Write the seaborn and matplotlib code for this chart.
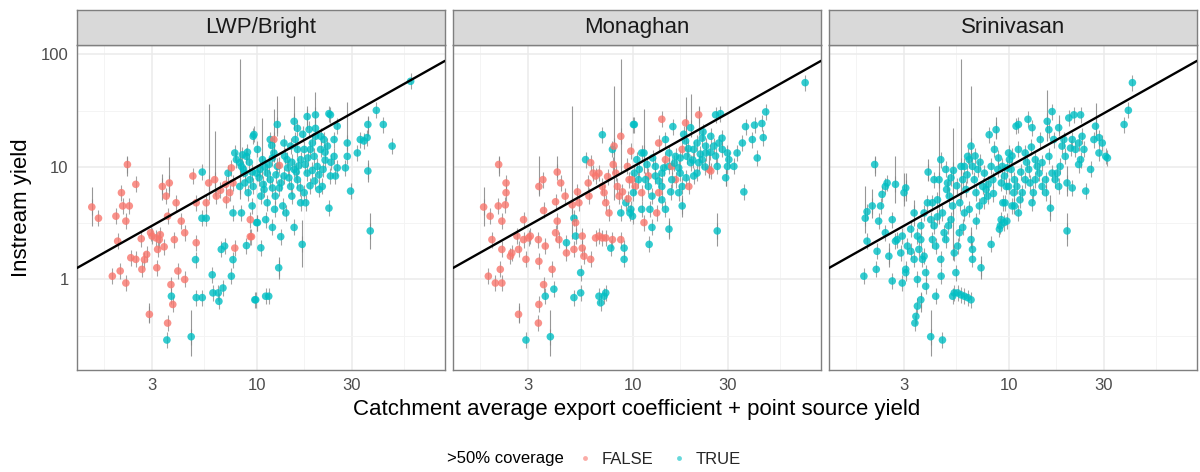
import matplotlib
matplotlib.use("Agg")
import matplotlib.pyplot as plt
from matplotlib.lines import Line2D
from matplotlib.ticker import FixedLocator, FixedFormatter, NullFormatter
import pandas as pd
import seaborn as sns

# ------------------------------------------------------------------ data
panel_names = ["LWP/Bright", "Monaghan", "Srinivasan"]
x_breaks = [3, 10, 30]
x_labels = ["3", "10", "30"]
y_breaks = [1, 10, 100]
y_labels = ["1", "10", "100"]
x_minor = [1.73, 5.48, 17.3, 54.8]
y_minor = [0.316, 3.16, 31.6]
x_range = (1.265, 87.5)
y_range = (0.157, 121.0)
cov_levels = ["FALSE", "TRUE"]

# LWP/Bright
lwp_x = [1.50, 1.62, 1.98, 2.11, 2.14, 2.26, 2.31, 2.22, 2.49, 2.02,
         1.90, 2.08, 2.22, 2.35, 2.49, 2.67, 2.82, 3.00, 3.14, 3.26,
         3.20, 3.17, 3.38, 3.53, 3.66, 3.59, 3.73, 3.81, 3.59, 3.56,
         3.75, 2.91, 3.96, 3.88, 4.04, 4.20, 4.37, 4.37, 4.71, 4.80,
         4.99, 4.99, 4.95, 4.99, 5.35, 5.35, 5.33, 5.60, 5.60, 5.76,
         6.00, 6.05, 6.43, 6.48, 6.79, 6.17, 6.29, 6.66, 6.92, 7.48,
         7.62, 7.78, 7.62, 7.20, 7.48, 7.78, 8.24, 8.40, 8.73, 8.90,
         9.43, 9.80, 9.61, 9.99, 7.93, 8.40, 8.73, 8.90, 9.25, 9.61,
         9.99, 9.07, 8.24, 7.62, 7.34, 7.06, 2.65, 2.95, 3.30, 3.45,
         2.75, 9.7, 12.7, 15.4, 16.0, 17.9, 19.7, 23.0, 23.4, 19.7,
         18.3, 25.3, 28.4, 28.4, 27.8, 29.5, 31.9, 33.0, 34.4, 35.7,
         36.0, 36.0, 37.0, 39.7, 43.0, 47.6, 58.9, 23.0, 16.9, 15.4,
         14.0, 13.2, 12.9, 10.5, 9.9, 11.1, 11.5, 11.1, 12.0, 10.1,
         9.3, 9.3, 10.1, 10.7, 11.3, 11.7, 12.2, 12.7, 13.2, 13.7,
         14.2, 14.8, 15.4, 16.0, 16.6, 17.3, 17.9, 18.6, 19.4, 20.1,
         20.9, 21.7, 22.6, 21.3, 20.5, 19.0, 17.3, 16.0, 14.8, 13.7,
         11.7, 10.9, 10.5, 11.3, 12.4, 16.6, 17.6, 19.7, 20.9, 24.4,
         24.4, 24.8, 23.4, 25.3, 12.2, 13.0, 13.5, 15.0, 18.5, 12.0,
         14.3, 19.0, 22.0, 16.2, 11.0, 10.3, 6.6, 7.0,
         8.6, 9.2, 9.5, 10.4, 10.8, 11.5, 12.0, 12.5, 13.0, 13.8,
         14.5, 15.0, 15.8, 16.5, 17.5, 18.0, 19.5, 20.5, 21.5, 22.0,
         23.5, 12.3, 9.5, 9.0, 8.5, 11.9, 15.6, 17.0]
lwp_y = [4.4, 3.5, 3.65, 5.9, 4.5, 10.5, 4.5, 3.3, 7.0, 2.19,
         1.07, 1.19, 0.93, 1.56, 1.51, 1.23, 1.67, 2.43, 2.34, 2.26,
         1.85, 1.27, 6.7, 5.5, 7.2, 3.65, 0.90, 0.60, 0.41, 0.29,
         0.71, 0.49, 4.8, 2.26, 1.19, 3.3, 1.0, 2.6, 0.31, 8.3,
         4.8, 2.12, 1.5, 0.69, 0.69, 9.0, 3.5, 4.8, 3.5, 7.2,
         1.1, 0.76, 0.76, 0.64, 0.84, 7.7, 5.5, 1.85, 1.98, 1.07,
         1.5, 1.9, 3.9, 8.8, 9.8, 13.3, 10.9, 3.9, 7.2, 2.0,
         2.4, 0.66, 18.7, 3.2, 11.6, 10.1, 8.8, 12.4, 7.7, 6.7,
         8.8, 5.9, 6.7, 7.2, 5.9, 5.1, 2.3, 2.6, 2.5, 1.95,
         1.5, 19.4, 23.8, 25.4, 22.0, 28.0, 29.0, 29.7, 29.0, 22.0,
         21.5, 23.0, 16.3, 12.4, 9.8, 6.1, 13.3, 17.5, 17.0, 18.2,
         23.8, 9.2, 2.7, 31.8, 23.8, 15.3, 57.6, 4.3, 2.05, 2.9,
         3.9, 2.4, 1.27, 1.91, 0.66, 0.71, 0.71, 3.4, 2.9, 3.2,
         2.4, 3.4, 14.3, 11.6, 8.8, 7.7, 13.3, 10.1, 7.2, 8.3,
         11.6, 6.7, 9.5, 7.7, 11.6, 5.9, 8.8, 14.3, 12.4, 10.1,
         14.3, 17.5, 15.3, 6.7, 6.3, 16.3, 14.3, 14.3, 15.3, 16.3,
         17.5, 6.3, 5.5, 4.8, 5.5, 4.8, 4.8, 18.7, 18.7, 17.5,
         12.4, 8.3, 8.3, 9.8, 17.5, 10.3, 4.5, 5.5, 6.8, 6.5,
         9.8, 9.3, 11.5, 10.2, 10.0, 8.0, 6.2, 7.0,
         9.5, 11.0, 9.0, 9.5, 7.0, 10.5, 12.0, 8.5, 6.5, 12.5,
         8.0, 11.0, 9.0, 6.5, 10.5, 12.0, 7.5, 8.5, 9.5, 13.5,
         11.0, 4.2, 4.5, 13.5, 12.8, 15.5, 17.5, 19.5]
lwp_cov = [0, 0, 0, 0, 0, 0, 0, 0, 0, 0,
           0, 0, 0, 0, 0, 0, 0, 0, 0, 0,
           0, 0, 0, 0, 0, 0, 0, 0, 0, 1,
           1, 0, 0, 0, 0, 0, 0, 0, 1, 0,
           0, 0, 1, 1, 1, 1, 1, 0, 1, 0,
           1, 1, 1, 1, 1, 0, 0, 1, 1, 1,
           1, 0, 1, 1, 0, 1, 1, 1, 1, 1,
           0, 1, 1, 1, 1, 1, 1, 1, 1, 1,
           1, 1, 1, 0, 0, 0, 0, 0, 0, 0,
           0, 1, 1, 1, 1, 1, 1, 1, 1, 1,
           1, 1, 1, 1, 1, 1, 1, 1, 1, 1,
           1, 1, 1, 1, 1, 1, 1, 1, 1, 1,
           1, 1, 1, 1, 1, 1, 1, 1, 1, 1,
           0, 0, 1, 1, 1, 1, 1, 1, 1, 1,
           1, 1, 1, 1, 1, 1, 1, 1, 1, 1,
           1, 1, 1, 1, 1, 1, 1, 1, 1, 1,
           1, 1, 1, 1, 1, 1, 1, 1, 1, 1,
           1, 1, 1, 1, 0, 0, 1, 1, 1, 1,
           1, 1, 1, 1, 1, 1, 0, 0,
           1, 1, 1, 1, 1, 1, 1, 1, 1, 1,
           1, 1, 1, 1, 1, 1, 1, 1, 1, 1,
           1, 1, 1, 1, 1, 1, 1, 1]
lwp_bar_x = [1.50, 2.26, 3.38, 3.66, 2.91, 4.71, 5.76, 6.17, 8.24, 12.7, 15.4,
             17.9, 19.7, 28.4, 36.0, 36.0, 37.0, 16.9, 12.9, 12.2, 10.7]
lwp_bar_lo = [3.0, 8.3, 5.1, 5.5, 0.41, 0.21, 5.1, 5.5, 5.2, 18.7, 21.3,
              21.5, 23.0, 14.3, 18.7, 7.4, 1.86, 1.28, 1.0, 11.1, 8.1]
lwp_bar_hi = [6.6, 12.4, 8.7, 12.2, 0.62, 0.54, 36.0, 20.8, 90.0, 42.8, 42.4,
              34.4, 46.4, 37.5, 28.6, 11.5, 3.9, 3.4, 1.59, 33.0, 27.0]

# Monaghan
mon_x = [1.80, 1.94, 2.14, 2.13, 2.22, 2.33, 2.33, 2.31, 1.98, 1.90,
         2.06, 2.18, 2.22, 2.22, 2.45, 2.49, 2.64, 2.69, 2.85, 2.85,
         3.02, 3.08, 2.93, 2.69, 3.40, 3.38, 3.40, 3.59, 3.56, 3.59,
         3.40, 3.38, 3.66, 2.93, 4.04, 3.88, 3.96, 4.12, 4.20, 4.20,
         4.12, 4.28, 4.37, 4.67, 4.67, 4.99, 5.09, 5.19, 5.09, 5.09,
         5.50, 5.50, 5.60, 5.71, 5.82, 6.17, 6.17, 6.35, 6.53, 6.79,
         7.06, 7.06, 7.20, 7.34, 7.62, 7.06, 7.34, 7.78, 7.93, 8.08,
         8.24, 8.40, 8.56, 8.73, 8.73, 9.07, 9.07, 9.25, 9.43, 9.61,
         9.80, 9.99, 9.80, 10.2, 10.2, 8.73, 7.93, 6.79, 6.53, 5.60,
         6.79, 7.20, 6.92, 7.34, 3.66, 5.39, 6.05, 5.19, 10.1, 11.4,
         14.0, 15.9, 18.4, 19.5, 21.4, 26.0, 27.5, 24.6, 25.5, 27.0,
         28.1, 29.8, 30.3, 29.8, 32.1, 33.3, 35.4, 36.7, 39.7, 40.7,
         44.3, 45.0, 42.0, 46.3, 72.9, 36.0, 29.2, 26.5, 26.5, 24.6,
         23.2, 23.2, 22.3, 21.0, 20.2, 21.0, 20.2, 19.5, 18.7, 18.4,
         17.7, 17.3, 17.7, 17.7, 17.0, 16.4, 15.7, 15.2, 15.2, 14.6,
         14.0, 14.0, 13.5, 13.0, 13.2, 12.5, 12.2, 12.5, 12.0, 12.0,
         11.6, 11.1, 11.4, 11.1, 10.7, 10.3, 10.1, 9.9, 9.7, 15.2,
         12.1, 14.6, 13.5, 15.7, 17.0, 16.4, 13.0, 14.0, 11.1, 10.5,
         21.4, 19.1, 24.1, 14.6, 22.3,
         10.8, 11.8, 12.6, 13.5, 14.3, 15.5, 16.2, 17.3, 18.5, 19.0,
         20.0, 21.8, 23.0, 24.5, 26.0, 28.0, 22.5, 18.0,
         6.0, 7.5, 8.0, 8.9, 9.5, 5.3, 4.6]
mon_y = [4.4, 3.65, 10.5, 4.5, 3.3, 7.2, 5.9, 4.6, 2.26, 1.07,
         0.93, 1.23, 0.93, 1.85, 1.61, 1.72, 2.43, 1.85, 3.4, 2.26,
         2.34, 2.43, 1.51, 0.49, 6.7, 2.26, 1.45, 4.1, 7.7, 0.90,
         0.60, 0.41, 0.71, 0.29, 0.82, 0.31, 1.23, 4.9, 9.0, 3.3,
         2.6, 2.26, 7.2, 1.72, 2.12, 4.6, 3.5, 2.43, 1.85, 0.69,
         0.76, 1.15, 1.9, 1.61, 11.6, 1.51, 10.9, 8.8, 8.3, 8.8,
         19.3, 6.7, 5.9, 4.8, 3.9, 2.34, 2.34, 1.9, 14.3, 15.3,
         8.8, 6.7, 5.5, 18.7, 3.9, 1.9, 1.51, 4.8, 10.1, 7.7,
         13.8, 3.65, 4.2, 23.8, 8.8, 2.26, 2.26, 2.43, 2.34, 2.43,
         0.71, 0.71, 0.62, 0.76, 1.98, 4.8, 5.5, 3.2, 23.8, 13.3,
         26.5, 22.8, 24.6, 22.3, 29.0, 29.0, 29.7, 18.7, 15.3, 16.3,
         14.3, 13.3, 11.6, 10.1, 10.1, 13.3, 16.3, 22.8, 17.5, 23.5,
         24.3, 18.2, 12.0, 30.8, 56.0, 6.0, 8.0, 10.1, 2.7, 9.2,
         15.3, 13.3, 18.0, 16.3, 14.3, 8.8, 8.3, 10.9, 12.4, 17.0,
         14.3, 8.8, 6.7, 4.5, 5.9, 7.7, 7.7, 10.1, 13.3, 11.6,
         6.7, 8.8, 5.9, 10.1, 3.9, 5.5, 4.2, 2.9, 8.3, 6.7,
         7.7, 5.9, 3.2, 4.2, 7.7, 6.7, 5.9, 7.7, 3.9, 2.8,
         2.05, 17.5, 16.3, 10.1, 9.8, 12.4, 8.3, 5.1, 13.3, 11.6,
         10.9, 6.7, 9.5, 4.2, 11.6,
         9.5, 10.5, 12.0, 7.5, 9.8, 6.0, 10.8, 12.0, 8.0, 14.5,
         11.5, 13.0, 10.0, 13.5, 12.5, 18.0, 20.5, 19.5,
         7.2, 8.2, 10.5, 6.0, 5.2, 6.0, 5.5]
mon_cov = [0, 0, 0, 0, 0, 0, 0, 0, 0, 0,
           0, 0, 0, 0, 0, 0, 0, 0, 0, 0,
           0, 0, 0, 0, 0, 0, 0, 0, 0, 0,
           0, 0, 1, 1, 1, 1, 0, 0, 0, 0,
           0, 0, 0, 0, 1, 0, 1, 1, 0, 1,
           1, 1, 0, 0, 1, 0, 0, 0, 0, 0,
           1, 0, 0, 0, 0, 0, 0, 1, 1, 0,
           0, 0, 0, 0, 1, 1, 1, 1, 0, 0,
           0, 1, 1, 1, 1, 0, 0, 0, 0, 0,
           1, 1, 1, 1, 0, 0, 0, 0, 1, 1,
           0, 1, 0, 1, 0, 1, 1, 1, 1, 1,
           1, 1, 1, 1, 1, 1, 1, 1, 1, 1,
           1, 1, 1, 1, 1, 1, 1, 1, 1, 0,
           1, 1, 1, 1, 1, 1, 1, 1, 1, 1,
           0, 1, 1, 1, 1, 0, 1, 1, 1, 0,
           1, 1, 0, 1, 0, 1, 1, 1, 0, 1,
           1, 0, 0, 1, 1, 0, 1, 0, 1, 1,
           1, 1, 0, 0, 1, 1, 1, 1, 1, 1,
           1, 0, 0, 1, 1,
           1, 1, 1, 1, 1, 1, 1, 1, 1, 1,
           1, 1, 1, 1, 1, 1, 1, 1,
           0, 0, 0, 0, 0, 0, 0]
mon_bar_x = [1.80, 2.14, 2.69, 3.40, 3.88, 4.20, 4.99, 8.08, 8.73, 11.4,
             18.4, 19.5, 21.4, 29.2, 26.5, 17.7, 15.2, 24.1]
mon_bar_lo = [3.0, 8.3, 0.41, 5.5, 0.21, 8.2, 2.3, 5.1, 8.9, 8.8,
              14.0, 18.6, 19.3, 6.7, 2.0, 3.6, 2.3, 7.9]
mon_bar_hi = [6.6, 12.4, 0.62, 12.4, 0.54, 12.4, 34.5, 52.0, 90.0, 33.0,
              42.0, 44.6, 34.8, 9.6, 3.9, 5.6, 3.5, 13.8]

# Srinivasan
sri_x = [1.92, 1.96, 2.08, 2.14, 2.24, 2.33, 2.42, 2.47, 2.29, 1.96,
         1.89, 2.18, 2.20, 2.42, 2.52, 2.62, 2.62, 2.72, 2.77, 2.94,
         2.94, 3.00, 3.06, 3.12, 3.06, 3.06, 3.37, 3.50, 3.50, 3.56,
         3.64, 3.78, 3.71, 3.85, 3.85, 3.64, 3.50, 3.44, 3.40, 4.08,
         4.67, 4.32, 3.96, 3.93, 4.08, 4.16, 4.24, 4.32, 4.41, 4.49,
         4.58, 4.67, 4.76, 4.85, 4.58, 4.60, 4.95, 5.05, 5.15, 5.15,
         5.25, 5.25, 5.35, 5.56, 5.78, 6.01, 6.24, 6.49, 5.45, 5.56,
         5.35, 5.67, 5.78, 5.90, 6.01, 6.24, 6.36, 6.12, 6.01, 6.36,
         6.49, 6.60, 6.49, 6.60, 6.60, 6.74, 6.87, 7.01, 7.14, 7.28,
         7.42, 7.57, 7.72, 7.87, 8.00, 8.18, 8.34, 8.50, 8.66, 8.83,
         8.18, 9.00, 9.18, 9.36, 9.54, 9.73, 10.1, 10.3, 10.7, 10.9,
         10.7, 4.85, 4.24, 4.16, 3.78, 3.64, 3.24, 3.37, 3.24, 2.72,
         2.89, 11.2, 12.5, 13.1, 15.6, 15.9, 16.5, 16.8, 17.8, 20.0,
         21.2, 22.9, 20.4, 21.6, 20.8, 22.4, 23.3, 23.8, 22.4, 22.9,
         25.7, 24.3, 20.8, 19.6, 19.6, 27.2, 26.7, 28.3, 29.4, 28.3,
         30.6, 31.2, 37.8, 39.7, 41.6, 16.2, 17.1, 17.5, 17.8, 18.1,
         18.5, 19.2, 18.9, 15.3, 15.3, 14.7, 14.2, 13.9, 13.6, 13.3,
         13.1, 12.8, 12.6, 12.1, 11.7, 11.4, 11.2, 11.0, 10.6, 10.4,
         10.0, 9.6, 9.5, 9.8, 9.1, 13.6, 14.7, 15.9, 12.1, 11.2,
         10.0, 9.3, 14.4, 16.5,
         4.9, 5.3, 5.5, 5.7, 6.2, 6.8, 7.2, 7.5, 7.9, 8.4,
         8.9, 9.2, 9.8, 10.4, 11.5, 12.3, 13.0, 5.0, 4.4, 5.9, 6.9]
sri_y = [3.5, 4.0, 4.5, 10.5, 3.3, 5.7, 6.7, 7.2, 4.5, 2.19,
         1.07, 1.23, 1.78, 2.6, 1.61, 0.97, 3.4, 7.0, 2.26, 0.93,
         2.43, 5.9, 6.5, 1.98, 1.23, 1.15, 3.9, 1.0, 2.43, 1.85,
         2.26, 1.61, 1.51, 1.15, 0.87, 0.66, 0.58, 0.47, 0.41, 0.31,
         0.29, 0.71, 9.0, 4.8, 3.4, 2.26, 3.0, 1.98, 5.1, 7.7,
         11.6, 3.9, 2.6, 2.26, 1.51, 1.07, 7.2, 5.5, 8.0, 3.4,
         4.5, 0.71, 0.76, 0.76, 0.73, 0.71, 0.69, 0.66, 1.15, 1.98,
         1.72, 2.6, 10.1, 7.7, 10.1, 12.4, 11.6, 6.3, 3.9, 4.2,
         15.3, 10.1, 2.26, 1.85, 1.51, 7.7, 5.9, 9.5, 4.5, 1.27,
         6.7, 8.8, 6.3, 5.5, 19.3, 10.1, 7.7, 14.3, 21.4, 9.5,
         2.05, 2.8, 3.4, 4.8, 8.3, 6.7, 11.6, 9.5, 7.7, 23.0,
         4.5, 9.5, 7.7, 4.8, 3.9, 3.0, 2.8, 1.51, 1.78, 2.19,
         1.72, 23.8, 26.5, 22.3, 25.4, 21.4, 31.0, 17.5, 22.3, 27.2,
         29.0, 29.0, 14.7, 14.3, 17.5, 16.3, 18.7, 14.3, 10.5, 11.6,
         9.5, 6.1, 6.5, 7.2, 2.7, 23.0, 17.5, 18.2, 16.3, 13.3,
         12.4, 12.0, 23.8, 31.8, 56.0, 4.3, 7.7, 8.8, 6.7, 10.1,
         15.3, 12.4, 17.5, 7.7, 5.9, 6.7, 8.8, 10.1, 7.7, 5.9,
         4.8, 7.2, 9.5, 7.7, 5.9, 5.1, 3.9, 6.7, 5.9, 4.5,
         6.7, 4.8, 3.2, 3.3, 3.0, 11.6, 10.9, 12.4, 13.3, 14.3,
         13.3, 10.1, 17.5, 8.8,
         6.3, 9.3, 6.8, 4.8, 8.5, 12.5, 11.0, 5.0, 7.0, 5.8,
         12.0, 7.2, 9.8, 12.5, 9.0, 11.0, 15.0, 3.0, 3.6, 2.9, 3.3]
sri_cov = [1] * len(sri_x)  # every Srinivasan site is TRUE in the picture
sri_bar_x = [1.92, 2.08, 2.14, 2.52, 2.72, 3.00, 3.06, 3.37, 3.64, 4.08, 3.96, 4.49,
             5.25, 5.78, 6.49, 6.49, 7.28, 8.66, 15.6, 17.8, 19.6, 19.6, 27.2, 16.2]
sri_bar_lo = [2.6, 3.5, 8.3, 1.29, 4.8, 4.5, 5.0, 3.0, 0.51, 0.21, 7.5, 3.1,
              1.5, 5.1, 11.0, 1.9, 1.0, 17.8, 17.0, 20.0, 5.5, 2.0, 19.0, 3.3]
sri_bar_hi = [6.7, 6.3, 12.4, 2.1, 12.4, 8.8, 8.8, 5.1, 0.76, 0.54, 11.7, 35.0,
              22.0, 90.0, 52.0, 2.9, 1.6, 27.8, 48.0, 29.0, 10.1, 3.9, 37.0, 5.6]

# ------------------------------------------------------------------ style
sns.set_theme(style="white")
plt.rcParams["font.family"] = ["Liberation Sans", "DejaVu Sans"]

palette = {"FALSE": "#F8766D", "TRUE": "#00BFC4"}
BAR_COL = "#858585"
FRAME = "#7F7F7F"
TXT = "#4D4D4D"

W, H = 1200, 472
fig = plt.figure(figsize=(W / 100, H / 100), dpi=100)
fig.patch.set_facecolor("white")

panel_left = [77, 453, 829]
panel_w = 368
panel_top, panel_bot = 45, 370
strip_top = 10

datasets = [
    (lwp_x, lwp_y, lwp_cov, lwp_bar_x, lwp_bar_lo, lwp_bar_hi),
    (mon_x, mon_y, mon_cov, mon_bar_x, mon_bar_lo, mon_bar_hi),
    (sri_x, sri_y, sri_cov, sri_bar_x, sri_bar_lo, sri_bar_hi),
]

for i, name in enumerate(panel_names):
    xs, ys, cov, bx, blo, bhi = datasets[i]
    L = panel_left[i] / W
    ax = fig.add_axes([L, 1 - panel_bot / H, panel_w / W, (panel_bot - panel_top) / H])
    ax.set_facecolor("white")
    ax.set_xscale("log")
    ax.set_yscale("log")

    df = pd.DataFrame({"x": xs, "y": ys,
                       "cov": [cov_levels[c] for c in cov]})

    # short uncertainty ticks (marker style) and long bars
    ax.scatter(df["x"], df["y"], marker="|", s=130, color=BAR_COL,
               linewidths=0.8, alpha=0.75, zorder=2)
    ax.vlines(bx, blo, bhi, color=BAR_COL, lw=0.8, alpha=0.85, zorder=2)
    sns.scatterplot(data=df, x="x", y="y", hue="cov", hue_order=cov_levels,
                    palette=palette, s=30, linewidth=0, alpha=0.8,
                    legend=False, ax=ax, zorder=3)
    ax.axline((1, 1), (10, 10), color="black", lw=1.7, zorder=4)

    ax.set_xlim(*x_range)
    ax.set_ylim(*y_range)
    ax.xaxis.set_major_locator(FixedLocator(x_breaks))
    ax.xaxis.set_major_formatter(FixedFormatter(x_labels))
    ax.xaxis.set_minor_locator(FixedLocator(x_minor))
    ax.xaxis.set_minor_formatter(NullFormatter())
    ax.yaxis.set_major_locator(FixedLocator(y_breaks))
    ax.yaxis.set_major_formatter(FixedFormatter(y_labels))
    ax.yaxis.set_minor_locator(FixedLocator(y_minor))
    ax.yaxis.set_minor_formatter(NullFormatter())

    ax.grid(which="major", color="#EBEBEB", lw=1.1)
    ax.grid(which="minor", color="#F3F3F3", lw=0.6)
    ax.set_axisbelow(True)
    ax.set_xlabel("")
    ax.set_ylabel("")

    ax.tick_params(which="minor", length=0)
    ax.tick_params(which="major", length=4, width=0.8, color=FRAME,
                   labelsize=12, labelcolor=TXT, pad=2)
    if i > 0:
        ax.tick_params(axis="y", left=False, labelleft=False)
    for sp in ax.spines.values():
        sp.set_visible(True)
        sp.set_color(FRAME)
        sp.set_linewidth(1.0)

    # facet strip
    sax = fig.add_axes([L, 1 - panel_top / H, panel_w / W, (panel_top - strip_top) / H])
    sax.set_facecolor("#D9D9D9")
    sax.set_xticks([])
    sax.set_yticks([])
    for sp in sax.spines.values():
        sp.set_color(FRAME)
        sp.set_linewidth(1.0)
    sax.text(0.5, 0.5, name, ha="center", va="center", fontsize=16,
             color="#1A1A1A", transform=sax.transAxes)

# axis titles
fig.text(637 / W, 1 - 410 / H, "Catchment average export coefficient + point source yield",
         ha="center", va="center", fontsize=16, color="black")
fig.text(22 / W, 1 - 207.5 / H, "Instream yield", ha="center", va="center",
         rotation=90, fontsize=16, color="black")

# legend
fig.text(447 / W, 1 - 459 / H, ">50% coverage", ha="left", va="center",
         fontsize=12, color="black")
handles = [Line2D([0], [0], marker="o", ls="none", markersize=3.5,
                  markerfacecolor=palette[k], markeredgewidth=0, alpha=0.6)
           for k in cov_levels]
fig.legend(handles, cov_levels, ncol=2, frameon=False, loc="center left",
           bbox_to_anchor=(577 / W, 1 - 459 / H), fontsize=12,
           handlelength=1.0, handletextpad=0.5, columnspacing=1.0,
           borderpad=0, borderaxespad=0)

fig.savefig("out.png", dpi=100, facecolor="white")
